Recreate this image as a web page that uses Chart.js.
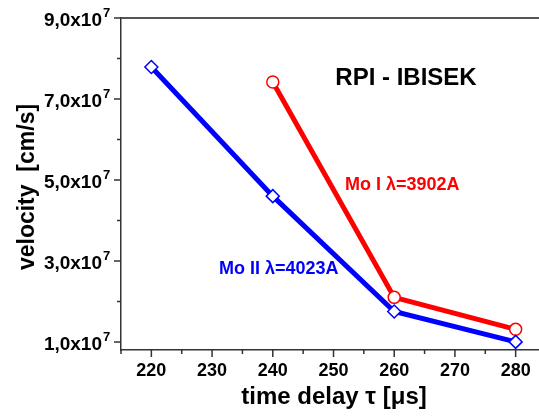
<!DOCTYPE html>
<html>
<head>
<meta charset="utf-8">
<script src="https://cdn.jsdelivr.net/npm/chart.js@4/dist/chart.umd.min.js"></script>
<style>
  html, body { margin: 0; padding: 0; background: #fff; overflow: hidden; }
  #wrap { width: 539px; height: 416px; overflow: hidden; }
</style>
</head>
<body>
<div id="wrap"><canvas id="myChart" width="546" height="416"></canvas></div>
<script>
// values
const moIIDelay = [220, 240, 260, 280];
const moIIVelocity = [7.79e7, 4.6e7, 1.75e7, 1.0e7];
const moIDelay = [240, 260, 280];
const moIVelocity = [7.42e7, 2.1e7, 1.31e7];

const xTicks = [220, 230, 240, 250, 260, 270, 280];
const xMinor = [215, 225, 235, 245, 255, 265, 275, 285];
const yTicks = [1e7, 3e7, 5e7, 7e7, 9e7];
const yTickLabels = ["1,0x10", "3,0x10", "5,0x10", "7,0x10", "9,0x10"];
const yMinor = [2e7, 4e7, 6e7, 8e7];

const FONT = "'Liberation Sans', Arial, sans-serif";

const toPoints = (xs, ys) => xs.map((x, i) => ({ x, y: ys[i] }));

// ticks, labels and titles drawn by hand so the superscripts fit
const axisDecor = {
  id: "axisDecor",
  beforeDatasetsDraw(chart) {
    const { ctx, chartArea } = chart;
    ctx.save();
    ctx.strokeStyle = "#555";
    ctx.lineWidth = 2;
    ctx.beginPath();
    ctx.moveTo(chartArea.left, chartArea.top);
    ctx.lineTo(chartArea.right, chartArea.top);
    ctx.stroke();
    ctx.restore();
  },
  afterDraw(chart) {
    const { ctx, chartArea, scales } = chart;
    const x = scales.x, y = scales.y;
    ctx.save();
    ctx.strokeStyle = "#333";
    ctx.lineWidth = 1.5;
    ctx.beginPath();
    xTicks.forEach(v => {
      const px = x.getPixelForValue(v);
      ctx.moveTo(px, chartArea.bottom);
      ctx.lineTo(px, chartArea.bottom + 7);
    });
    xMinor.forEach(v => {
      const px = x.getPixelForValue(v);
      ctx.moveTo(px, chartArea.bottom);
      ctx.lineTo(px, chartArea.bottom + 4);
    });
    yTicks.forEach(v => {
      const py = y.getPixelForValue(v);
      ctx.moveTo(chartArea.left, py);
      ctx.lineTo(chartArea.left - 7, py);
    });
    yMinor.forEach(v => {
      const py = y.getPixelForValue(v);
      ctx.moveTo(chartArea.left, py);
      ctx.lineTo(chartArea.left - 4, py);
    });
    ctx.stroke();

    ctx.fillStyle = "#000";
    ctx.font = "bold 18px " + FONT;
    ctx.textAlign = "center";
    ctx.textBaseline = "middle";
    xTicks.forEach(v => ctx.fillText(String(v), x.getPixelForValue(v), chartArea.bottom + 21));

    yTicks.forEach((v, i) => {
      const py = y.getPixelForValue(v);
      ctx.textBaseline = "alphabetic";
      ctx.textAlign = "right";
      ctx.font = "bold 19px " + FONT;
      ctx.fillText(yTickLabels[i], 102, py + 8);
      ctx.textAlign = "left";
      ctx.font = "bold 13px " + FONT;
      ctx.fillText("7", 103, py - 1);
    });

    ctx.textAlign = "center";
    ctx.textBaseline = "middle";
    ctx.font = "bold 24px " + FONT;
    ctx.fillText("time delay \u03c4 [\u03bcs]", 334, 397);
    ctx.save();
    ctx.translate(28, 187);
    ctx.rotate(-Math.PI / 2);
    ctx.font = "bold 23px " + FONT;
    ctx.fillText("velocity  [cm/s]", 0, 0);
    ctx.restore();

    ctx.font = "bold 24px " + FONT;
    ctx.fillText("RPI - IBISEK", 406, 78);

    ctx.textAlign = "left";
    ctx.font = "bold 18px " + FONT;
    ctx.fillStyle = "#ff0000";
    ctx.fillText("Mo I \u03bb=3902A", 345, 185);
    ctx.fillStyle = "#0000ff";
    ctx.fillText("Mo II \u03bb=4023A", 219, 269);
    ctx.restore();
  }
};

new Chart(document.getElementById("myChart"), {
  type: "line",
  data: {
    datasets: [
      {
        label: "Mo II 4023A",
        data: toPoints(moIIDelay, moIIVelocity),
        borderColor: "#0000ff",
        borderWidth: 5,
        pointStyle: "rectRot",
        pointRadius: 6.5,
        pointBorderWidth: 1.5,
        pointBorderColor: "#0000ff",
        pointBackgroundColor: "#fff"
      },
      {
        label: "Mo I 3902A",
        data: toPoints(moIDelay, moIVelocity),
        borderColor: "#ff0000",
        borderWidth: 5,
        pointStyle: "circle",
        pointRadius: 6,
        pointBorderWidth: 1.5,
        pointBorderColor: "#ff0000",
        pointBackgroundColor: "#fff"
      }
    ]
  },
  options: {
    responsive: false,
    animation: false,
    layout: { autoPadding: false, padding: { top: 18, right: 0, left: 0, bottom: 0 } },
    plugins: { legend: { display: false }, tooltip: { enabled: false } },
    scales: {
      x: {
        type: "linear",
        min: 215,
        max: 285,
        grid: { display: false },
        border: { display: true, color: "#333", width: 1.5 },
        ticks: { display: false },
        afterFit: s => { s.height = 66; }
      },
      y: {
        min: 0.8e7,
        max: 9e7,
        grid: { display: false },
        border: { display: true, color: "#333", width: 1.5 },
        ticks: { display: false },
        afterFit: s => { s.width = 121; }
      }
    }
  },
  plugins: [axisDecor]
});
</script>
</body>
</html>
